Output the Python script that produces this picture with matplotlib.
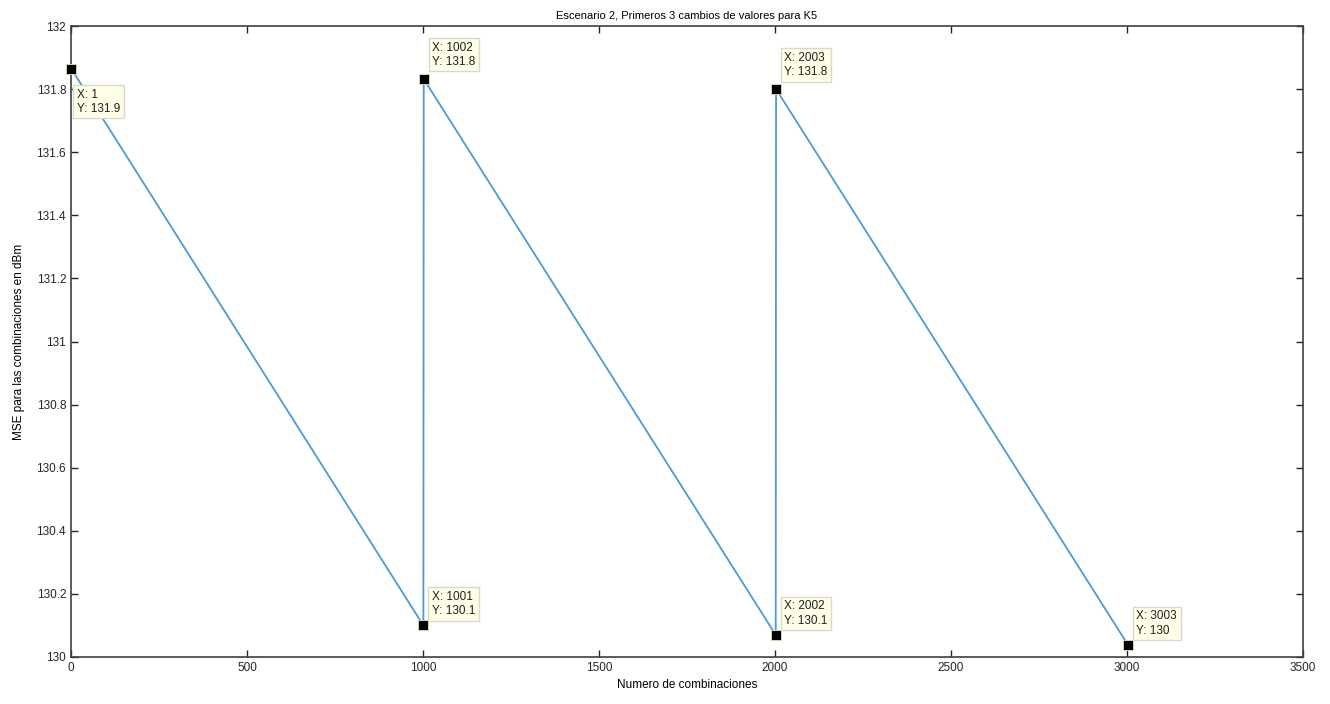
import numpy as np
import matplotlib.pyplot as plt

plt.rcParams['font.family'] = ['Liberation Sans', 'DejaVu Sans']

combinaciones = [1, 1001, 1002, 2002, 2003, 3003]
mse = [131.864, 130.10, 131.832, 130.07, 131.80, 130.038]

# data tips: index, label y, offset (pt)
tips = [
    (0, '131.9', (4, -33)),
    (1, '130.1', (6, 6)),
    (2, '131.8', (6, 8)),
    (3, '130.1', (6, 6)),
    (4, '131.8', (6, 8)),
    (5, '130', (6, 6)),
]

fig = plt.figure(figsize=(13.3, 7.04), dpi=100)
ax = fig.add_axes([0.0534, 0.0668, 0.9263, 0.8962])

ax.plot(combinaciones, mse, color='#4a9bd6', linewidth=1.3)

for i, ytxt, off in tips:
    x, y = combinaciones[i], mse[i]
    ax.plot(x, y, marker='s', color='black', markersize=6.5,
            markeredgecolor='#d8d4a8', markeredgewidth=0.7, zorder=5,
            clip_on=False)
    ax.annotate(f'X: {x}\nY: {ytxt}', xy=(x, y), xytext=off,
                textcoords='offset points', fontsize=8.5, color='#202020',
                ha='left', va='bottom', linespacing=1.25,
                bbox=dict(boxstyle='square,pad=0.3', fc='#ffffe8',
                          ec='#d8d8d0', lw=1), zorder=6)

ax.set_xlim(0, 3500)
ax.set_ylim(130, 132)
ax.set_xticks(np.arange(0, 3501, 500))
ax.set_yticks(np.arange(130, 132.01, 0.2))
ax.set_yticklabels(['130', '130.2', '130.4', '130.6', '130.8', '131',
                    '131.2', '131.4', '131.6', '131.8', '132'])
ax.tick_params(direction='in', top=True, right=True, length=5,
               width=1, labelsize=8.5, colors='#262626')
for s in ax.spines.values():
    s.set_color('#404040')
    s.set_linewidth(1.2)

ax.set_title('Escenario 2, Primeros 3 cambios de valores para K5',
             fontsize=8, pad=5)
ax.set_xlabel('Numero de combinaciones', fontsize=8.5, labelpad=4)
ax.set_ylabel('MSE para las combinaciones en dBm', fontsize=8.5, labelpad=8)

fig.savefig('out.png', dpi=100)
